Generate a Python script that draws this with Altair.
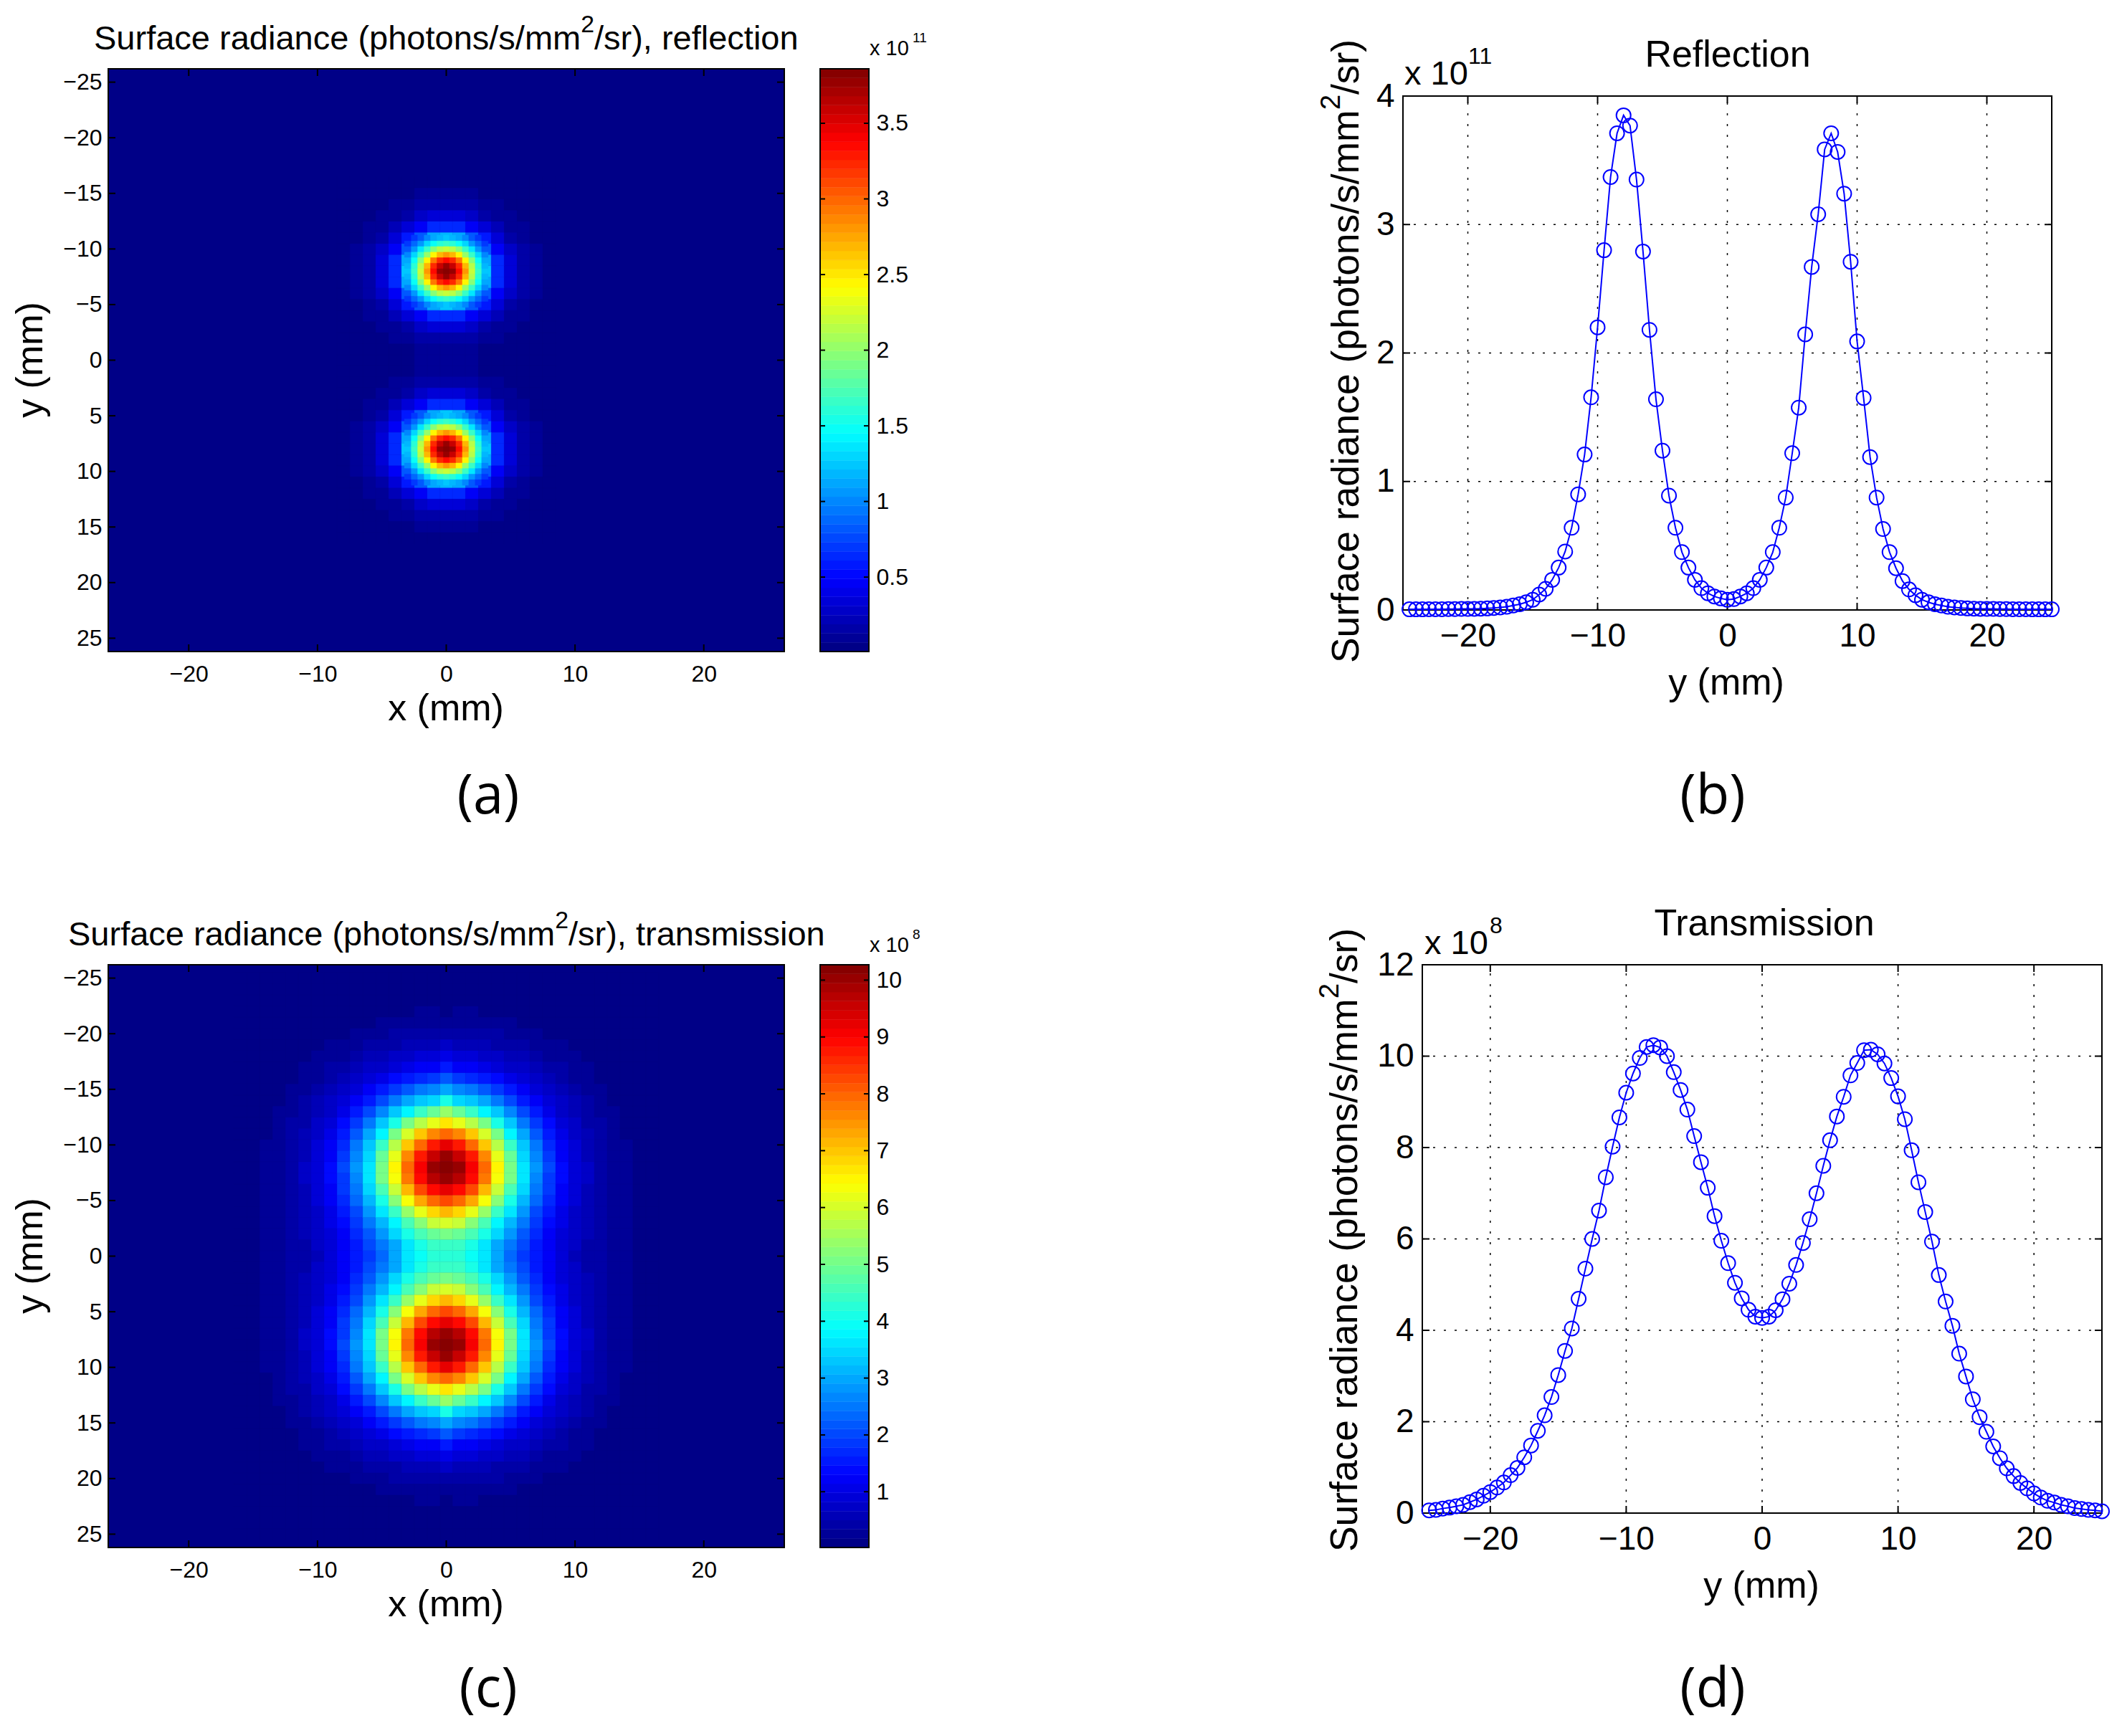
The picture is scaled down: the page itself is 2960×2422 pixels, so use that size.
import altair as alt

FONT = "Liberation Sans"
CAP_FONT = "Open Sans"

# ---- line profiles (units 1e11 and 1e8) ----
LINE_Y = [i / 2 for i in range(-49, 51)]
REFL = [.005,.005,.005,.006,.006,.006,.007,.007,.008,.008,.009,.01,.012,.015,.02,.025,.035,.045,.06,.08,.12,.165,.235,.33,.455,.64,.90,1.21,1.655,2.20,2.80,3.37,3.71,3.85,3.77,3.35,2.79,2.18,1.64,1.24,.89,.64,.45,.33,.235,.17,.13,.105,.09,.08,
        .085,.105,.13,.17,.235,.33,.45,.64,.875,1.22,1.575,2.145,2.67,3.08,3.585,3.71,3.565,3.24,2.71,2.09,1.65,1.19,.875,.63,.45,.325,.225,.16,.115,.08,.06,.045,.035,.025,.02,.015,.012,.01,.009,.008,.008,.007,.007,.006,.006,.006,.005,.005,.005,.005]
TRANS = [.06,.07,.10,.12,.15,.18,.24,.30,.38,.46,.56,.67,.83,.99,1.22,1.48,1.80,2.14,2.54,3.02,3.55,4.04,4.69,5.35,6.0,6.62,7.35,8.02,8.66,9.2,9.62,9.96,10.2,10.24,10.19,10.0,9.65,9.26,8.83,8.25,7.68,7.12,6.5,5.96,5.47,5.04,4.7,4.45,4.3,4.27,
         4.3,4.44,4.68,5.02,5.43,5.91,6.43,7.0,7.6,8.16,8.68,9.11,9.58,9.85,10.13,10.14,10.04,9.84,9.52,9.12,8.62,7.94,7.24,6.59,5.94,5.21,4.63,4.1,3.49,2.99,2.49,2.1,1.78,1.46,1.2,.98,.81,.66,.54,.43,.34,.27,.23,.18,.15,.11,.09,.07,.06,.04]

# ---- radiance maps: |y| = 0,1,2... rows, x = 0,1,2... columns ----
MAP_A = [
 [.08,.08,.07,.06,.04,.03,.02,.012,.01],
 [.10,.10,.08,.06,.045,.03,.02,.012,.01],
 [.17,.16,.14,.10,.07,.05,.03,.02,.01],
 [.33,.31,.25,.18,.12,.08,.045,.025,.015],
 [.64,.61,.47,.33,.21,.12,.07,.04,.02],
 [1.22,1.12,.85,.55,.33,.18,.10,.05,.03],
 [2.18,1.95,1.35,.85,.47,.25,.13,.07,.035],
 [3.35,2.85,1.95,1.12,.61,.31,.15,.08,.04],
 [3.85,3.35,2.2,1.22,.65,.33,.16,.08,.04],
 [3.37,2.85,1.95,1.12,.61,.31,.15,.08,.04],
 [2.2,1.95,1.35,.85,.47,.25,.13,.07,.035],
 [1.21,1.12,.85,.55,.33,.18,.10,.05,.03],
 [.64,.61,.47,.33,.21,.12,.07,.04,.02],
 [.33,.31,.25,.18,.12,.08,.045,.025,.015],
 [.165,.15,.13,.10,.07,.045,.03,.02,.01],
 [.08,.08,.07,.05,.04,.025,.02,.012,.01],
 [.045,.04,.035,.03,.02,.015,.01,.01,.005],
]
# blob core of map (a) at half-mm steps: rows = distance from y = 8 (0, .5, ... 3), columns = |x| (0, .5, ... 3)
MAP_A_CORE = [
 [3.85,3.75,3.35,2.8,2.2,1.65,1.22],
 [3.75,3.6,3.25,2.7,2.15,1.6,1.2],
 [3.35,3.25,2.95,2.45,1.95,1.5,1.15],
 [2.8,2.7,2.45,2.05,1.65,1.28,.98],
 [2.2,2.15,1.95,1.65,1.35,1.08,.82],
 [1.65,1.6,1.5,1.28,1.08,.87,.68],
 [1.22,1.2,1.12,.98,.82,.68,.55],
]
MAP_C = [
 [4.3,4.2,3.95,3.55,3.0,2.4,1.9,1.55,1.2,.88,.66,.48,.36,.28,.2,.14,.1],
 [4.45,4.35,4.05,3.6,3.0,2.5,2.0,1.55,1.2,.92,.68,.49,.36,.27,.2,.14,.1],
 [5.0,4.9,4.55,4.1,3.45,2.8,2.2,1.65,1.25,.96,.72,.54,.38,.27,.21,.14,.1],
 [5.95,5.8,5.25,4.55,3.85,3.1,2.45,1.85,1.34,1.01,.76,.55,.39,.27,.21,.15,.11],
 [7.1,6.85,6.2,5.45,4.5,3.55,2.81,2.06,1.53,1.1,.82,.59,.42,.29,.21,.15,.1],
 [8.25,8.0,7.3,6.4,5.25,4.05,3.18,2.36,1.74,1.21,.89,.64,.45,.31,.21,.15,.11],
 [9.2,8.9,8.2,7.18,5.87,4.61,3.44,2.57,1.85,1.28,.92,.65,.46,.32,.22,.16,.11],
 [10.0,9.65,8.84,7.73,6.32,5.01,3.59,2.73,1.92,1.36,.95,.69,.48,.32,.22,.16,.11],
 [10.24,10.0,9.1,7.9,6.5,5.1,3.7,2.8,1.95,1.35,.95,.7,.5,.3,.2,.15,.1],
 [9.96,9.5,8.7,7.6,6.2,4.9,3.5,2.65,1.85,1.3,.9,.65,.45,.3,.2,.15,.1],
 [9.2,8.7,8.0,7.0,5.7,4.45,3.3,2.45,1.75,1.2,.85,.6,.42,.29,.2,.14,.1],
 [8.0,7.6,7.0,6.1,5.0,3.85,3.0,2.2,1.6,1.1,.8,.57,.4,.27,.18,.13,.09],
 [6.6,6.2,5.7,5.0,4.1,3.25,2.55,1.85,1.35,.95,.7,.5,.35,.24,.17,.12,.08],
 [5.35,4.9,4.45,3.85,3.25,2.65,2.05,1.55,1.1,.82,.6,.43,.3,.2,.16,.11,.08],
 [4.04,3.5,3.3,3.0,2.55,2.05,1.6,1.2,.9,.7,.52,.38,.26,.18,.14,.09,.07],
 [3.0,2.65,2.45,2.2,1.85,1.55,1.2,.95,.75,.57,.42,.3,.21,.16,.12,.08,.06],
 [2.14,1.85,1.75,1.6,1.35,1.1,.9,.75,.58,.44,.33,.24,.18,.14,.1,.07,.05],
 [1.48,1.3,1.2,1.1,.95,.82,.7,.57,.45,.35,.26,.19,.15,.11,.08,.06,.04],
 [.99,.9,.85,.8,.7,.6,.52,.42,.33,.26,.2,.16,.12,.09,.07,.05,.03],
 [.67,.65,.6,.57,.5,.43,.38,.3,.24,.19,.16,.12,.09,.07,.05,.04,.03],
 [.46,.45,.42,.4,.35,.3,.26,.21,.18,.15,.12,.09,.07,.05,.04,.03,.02],
 [.3,.3,.29,.27,.24,.2,.18,.16,.14,.11,.09,.07,.05,.04,.03,.02,.02],
 [.18,.2,.2,.18,.17,.16,.14,.12,.1,.08,.07,.05,.04,.03,.02,.02,.01],
 [.12,.15,.14,.13,.12,.11,.09,.08,.07,.06,.05,.04,.03,.02,.02,.01,.01],
 [.07,.1,.1,.09,.08,.08,.07,.06,.05,.04,.03,.03,.02,.02,.01,.01,.01],
 [.04,.07,.07,.06,.06,.05,.05,.04,.04,.03,.02,.02,.01,.01,.01,.01,.01],
]

# ---- ticks ----
HEAT_X_TICKS = [-20, -10, 0, 10, 20]
HEAT_Y_TICKS = [-25, -20, -15, -10, -5, 0, 5, 10, 15, 20, 25]
LINE_X_TICKS = [-20, -10, 0, 10, 20]
B_Y_TICKS = [0, 1, 2, 3, 4]
D_Y_TICKS = [0, 2, 4, 6, 8, 10, 12]
CB_A_TICKS = [0.5, 1, 1.5, 2, 2.5, 3, 3.5]
CB_C_TICKS = [1, 2, 3, 4, 5, 6, 7, 8, 9, 10]


def jet_color(t):
    c = lambda v: int(round(255 * max(0.0, min(1.0, v))))
    return "#%02x%02x%02x" % (c(1.5 - abs(4 * t - 3)), c(1.5 - abs(4 * t - 2)), c(1.5 - abs(4 * t - 1)))


JET = [jet_color((i + 0.5) / 64) for i in range(64)]
ONE = alt.Data(values=[{"k": 0}])

# page geometry of the panels
HEAT_W, HEAT_H = 943, 813
ROW1_TOP, ROW2_TOP = 96, 1346
HEAT_L, CB_L, RIGHT_L = 152, 1145, 1958
CB_W, RIGHT_W = 68, 975
EM_HEAD = 14.45  # width in em of "Surface radiance (photons/s/mm"


def text(ox, oy, px, py, s, size, angle=0, align="center", font=FONT):
    return alt.Chart(ONE).mark_text(font=font, fontSize=size, angle=angle, align=align,
                                    baseline="middle", color="black").encode(
        x=alt.value(px - ox), y=alt.value(py - oy), text=alt.value(s))


def sup_title(ox, oy, px, py, tail, size, vertical=False):
    """Title text with a raised 2: head, superscript, tail, starting at page point (px, py)."""
    head = "Surface radiance (photons/s/mm"
    w1 = EM_HEAD * size
    w2 = 0.556 * size * 0.72
    raise_by = 0.42 * size
    if vertical:
        return [text(ox, oy, px, py, head, size, angle=270, align="left"),
                text(ox, oy, px - raise_by, py - w1, "2", size * 0.72, angle=270, align="left"),
                text(ox, oy, px, py - w1 - w2, tail, size, angle=270, align="left")]
    return [text(ox, oy, px, py, head, size, align="left"),
            text(ox, oy, px + w1, py - raise_by, "2", size * 0.72, align="left"),
            text(ox, oy, px + w1 + w2, py, tail, size, align="left")]


def frame(xd, yd, X, Y):
    return alt.Chart(alt.Data(values=[{"a": xd[0], "b": xd[1], "c": yd[0], "d": yd[1]}])).mark_rect(
        fillOpacity=0, stroke="black", strokeWidth=2).encode(
        x=alt.X("a:Q").scale(X["scale"]).axis(X["axis"]).title(None), x2="b:Q",
        y=alt.Y("c:Q").scale(Y["scale"]).axis(Y["axis"]).title(None), y2="d:Q")


def ticks_x(vals, X, top, bottom, L):
    d = alt.Data(values=[{"a": v} for v in vals])
    enc = alt.X("a:Q").scale(X["scale"]).axis(X["axis"]).title(None)
    return [alt.Chart(d).mark_rule(color="black", strokeWidth=2).encode(x=enc, y=alt.value(top), y2=alt.value(top + L)),
            alt.Chart(d).mark_rule(color="black", strokeWidth=2).encode(x=enc, y=alt.value(bottom - L), y2=alt.value(bottom))]


def ticks_y(vals, Y, left, right, L):
    d = alt.Data(values=[{"c": v} for v in vals])
    enc = alt.Y("c:Q").scale(Y["scale"]).axis(Y["axis"]).title(None)
    return [alt.Chart(d).mark_rule(color="black", strokeWidth=2).encode(y=enc, x=alt.value(left), x2=alt.value(left + L)),
            alt.Chart(d).mark_rule(color="black", strokeWidth=2).encode(y=enc, x=alt.value(right - L), x2=alt.value(right))]


def heat_view(table, vmin, vmax, top, tail, title_x, caption, cap_y, core=None):
    cells = []
    for yi, row in enumerate(table):
        for xi, v in enumerate(row):
            for sx in ([1, -1] if xi else [1]):
                for sy in ([1, -1] if yi else [1]):
                    cells.append({"a": sx * xi - .5, "b": sx * xi + .5,
                                  "c": sy * yi - .5, "d": sy * yi + .5, "v": v})
    if core:
        for di, row in enumerate(core):
            for xi, v in enumerate(row):
                for sx in ([1, -1] if xi else [1]):
                    for sd in ([1, -1] if di else [1]):
                        for blob in (-8, 8):
                            x0 = sx * xi / 2
                            y0 = blob + sd * di / 2
                            cells.append({"a": x0 - .25, "b": x0 + .25, "c": y0 - .25, "d": y0 + .25, "v": v})
    color_scale = alt.Scale(type="quantize", domain=[vmin, vmax], range=JET)
    dx, dy = 26.25, 26.2
    X = {"scale": alt.Scale(domain=[-dx, dx], nice=False, zero=False),
         "axis": alt.Axis(values=HEAT_X_TICKS, format="d", ticks=False, domain=False, grid=False,
                          labelFont=FONT, labelFontSize=32, labelPadding=16, labelColor="black",
                          labelFlush=False, labelOverlap=False)}
    Y = {"scale": alt.Scale(domain=[-dy, dy], reverse=True, nice=False, zero=False),
         "axis": alt.Axis(values=HEAT_Y_TICKS, format="d", ticks=False, domain=False, grid=False,
                          labelFont=FONT, labelFontSize=32, labelPadding=9, labelColor="black",
                          labelFlush=False, labelOverlap=False)}
    xe = alt.X("a:Q").scale(X["scale"]).axis(X["axis"]).title(None)
    ye = alt.Y("c:Q").scale(Y["scale"]).axis(Y["axis"]).title(None)
    bg = alt.Chart(alt.Data(values=[{"a": -dx, "b": dx, "c": -dy, "d": dy, "v": vmin}])).mark_rect().encode(
        x=xe, x2="b:Q", y=ye, y2="d:Q",
        color=alt.Color("v:Q", scale=color_scale, legend=None))
    cell = alt.Chart(alt.Data(values=cells)).mark_rect(strokeWidth=0.5).encode(
        x=xe, x2="b:Q", y=ye, y2="d:Q",
        color=alt.Color("v:Q", scale=color_scale, legend=None),
        stroke=alt.Stroke("v:Q", scale=color_scale, legend=None))
    layers = [bg, cell, frame((-dx, dx), (-dy, dy), X, Y)]
    layers += ticks_x(HEAT_X_TICKS, X, 0, HEAT_H, 10) + ticks_y(HEAT_Y_TICKS, Y, 0, HEAT_W, 10)
    ox, oy = HEAT_L, top
    layers += sup_title(ox, oy, title_x, top - 41, tail, 47)
    layers += [text(ox, oy, 623, top + 893, "x (mm)", 52),
               text(ox, oy, 44, top + 406, "y (mm)", 52, angle=270),
               text(ox, oy, 682, cap_y, caption, 76, font=CAP_FONT)]
    return alt.layer(*layers).properties(width=HEAT_W, height=HEAT_H)


def colorbar(vmin, vmax, tick_vals, fmt, top, exp, exp_y, base_y):
    step = (vmax - vmin) / 64
    bars = [{"a": 0, "b": 1, "c": vmin + i * step, "d": vmin + (i + 1) * step,
             "v": vmin + (i + .5) * step} for i in range(64)]
    color_scale = alt.Scale(type="quantize", domain=[vmin, vmax], range=JET)
    X = {"scale": alt.Scale(domain=[0, 1], nice=False, zero=False), "axis": None}
    Y = {"scale": alt.Scale(domain=[vmin, vmax], nice=False, zero=False),
         "axis": alt.Axis(values=tick_vals, format=fmt, orient="right", ticks=False, domain=False, grid=False,
                          labelFont=FONT, labelFontSize=32, labelPadding=10, labelColor="black",
                          labelFlush=False, labelOverlap=False)}
    xe = alt.X("a:Q").scale(X["scale"]).axis(None).title(None)
    ye = alt.Y("c:Q").scale(Y["scale"]).axis(Y["axis"]).title(None)
    bar = alt.Chart(alt.Data(values=bars)).mark_rect(strokeWidth=0.5).encode(
        x=xe, x2="b:Q", y=ye, y2="d:Q",
        color=alt.Color("v:Q", scale=color_scale, legend=None),
        stroke=alt.Stroke("v:Q", scale=color_scale, legend=None))
    layers = [bar, frame((0, 1), (vmin, vmax), X, Y)]
    layers += ticks_y(tick_vals, Y, 0, CB_W, 7)
    ox, oy = CB_L, top
    layers += [text(ox, oy, 1214, base_y, "x 10", 29, align="left"),
               text(ox, oy, 1274, exp_y, exp, 19, align="left")]
    return alt.layer(*layers).properties(width=CB_W, height=HEAT_H).resolve_scale(color="shared", stroke="shared")


def line_view(values, ydom, yticks, xr, yr, top, title, tx, ty, ylx, yly, xlx, xly, exp, ex, ey, eex, eey, cap, cap_y):
    off_x = HEAT_H - yr[0]
    X = {"scale": alt.Scale(domain=[-25, 25], range=xr, nice=False, zero=False),
         "axis": alt.Axis(values=LINE_X_TICKS, format="d", ticks=False, domain=False, grid=False, offset=-off_x,
                          labelFont=FONT, labelFontSize=46, labelPadding=14, labelColor="black",
                          labelFlush=False, labelOverlap=False)}
    Y = {"scale": alt.Scale(domain=ydom, range=yr, nice=False, zero=False),
         "axis": alt.Axis(values=yticks, format="d", ticks=False, domain=False, grid=False, offset=-xr[0],
                          labelFont=FONT, labelFontSize=46, labelPadding=12, labelColor="black",
                          labelFlush=False, labelOverlap=False)}
    xe = alt.X("a:Q").scale(X["scale"]).axis(X["axis"]).title(None)
    ye = alt.Y("c:Q").scale(Y["scale"]).axis(Y["axis"]).title(None)
    pts = alt.Data(values=[{"a": a, "c": c} for a, c in zip(LINE_Y, values)])
    gx = alt.Chart(alt.Data(values=[{"a": v, "c": ydom[0], "d": ydom[1]} for v in LINE_X_TICKS])).mark_rule(
        color="black", strokeWidth=1.5, strokeDash=[3, 12]).encode(x=xe, y=ye, y2="d:Q")
    gy = alt.Chart(alt.Data(values=[{"a": -25, "b": 25, "c": v} for v in yticks[1:-1]])).mark_rule(
        color="black", strokeWidth=1.5, strokeDash=[3, 12]).encode(x=xe, x2="b:Q", y=ye)
    line = alt.Chart(pts).mark_line(color="#0000ff", strokeWidth=2).encode(x=xe, y=ye)
    dots = alt.Chart(pts).mark_point(shape="circle", filled=False, color="#0000ff", strokeWidth=2,
                                     size=400, opacity=1).encode(x=xe, y=ye)
    layers = [gx, gy, frame((-25, 25), ydom, X, Y)]
    layers += ticks_x(LINE_X_TICKS, X, yr[1], yr[0], 10) + ticks_y(yticks, Y, xr[0], xr[1], 10)
    layers += [line, dots]
    ox, oy = RIGHT_L, top
    layers += [text(ox, oy, tx, ty, title, 52)]
    layers += sup_title(ox, oy, ylx, yly, "/sr)", 53.4, vertical=True)
    layers += [text(ox, oy, xlx, xly, "y (mm)", 52),
               text(ox, oy, ex, ey, "x 10", 47, align="left"),
               text(ox, oy, eex, eey, exp, 32, align="left"),
               text(ox, oy, 2390, cap_y, cap, 76, font=CAP_FONT)]
    return alt.layer(*layers).properties(width=RIGHT_W, height=HEAT_H)


def spacer(w):
    return alt.Chart(ONE).mark_text(opacity=0).encode(x=alt.value(0), y=alt.value(0), text=alt.value(" ")).properties(
        width=w, height=HEAT_H)


A_MIN, A_MAX = 0.008, 3.86
C_MIN, C_MAX = 0.02, 10.27

views = [
    heat_view(MAP_A, A_MIN, A_MAX, ROW1_TOP, "/sr), reflection", 132, "(a)", 1112, core=MAP_A_CORE),
    spacer(CB_L - HEAT_L - HEAT_W),
    colorbar(A_MIN, A_MAX, CB_A_TICKS, ".1~f", ROW1_TOP, "11", 53, 68),
    spacer(RIGHT_L - CB_L - CB_W),
    line_view(REFL, [0, 4], B_Y_TICKS, [0, 905], [755, 38], ROW1_TOP, "Reflection", 2411, 77, 1880, 925, 2409, 953,
              "11", 1960, 104, 2049, 79, "(b)", 1112),
    heat_view(MAP_C, C_MIN, C_MAX, ROW2_TOP, "/sr), transmission", 96, "(c)", 2358),
    spacer(CB_L - HEAT_L - HEAT_W),
    colorbar(C_MIN, C_MAX, CB_C_TICKS, "d", ROW2_TOP, "8", 1304, 1319),
    spacer(RIGHT_L - CB_L - CB_W),
    line_view(TRANS, [0, 12], D_Y_TICKS, [27, 975], [765, 0], ROW2_TOP, "Transmission", 2462, 1289, 1878, 2165, 2458, 2213,
              "8", 1988, 1317, 2079, 1292, "(d)", 2358),
]

chart = alt.concat(*views, columns=5, spacing=alt.RowColnumber(row=437, column=0), bounds="flush").resolve_scale(
    color="independent", stroke="independent"
).properties(
    padding={"left": 9, "top": 10, "right": 0, "bottom": 10}, background="white"
).configure_view(stroke=None)

chart.save("out.html", embed_options={"renderer": "svg", "actions": False})
